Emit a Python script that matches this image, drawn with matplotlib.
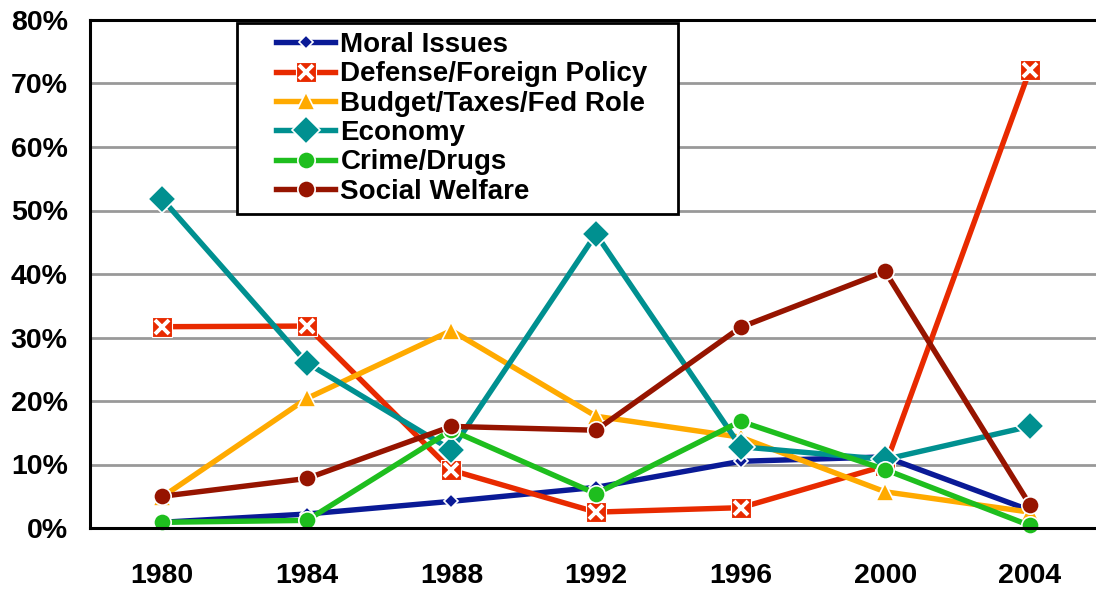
import matplotlib
matplotlib.use("Agg")
from matplotlib import pyplot as plt
from matplotlib.patches import Rectangle

years = ["1980", "1984", "1988", "1992", "1996", "2000", "2004"]

moral_issues = [0.9, 2.2, 4.2, 6.4, 10.5, 11.2, 2.8]
defense_foreign = [31.7, 31.8, 9.1, 2.5, 3.2, 9.8, 72.1]
budget_taxes = [4.9, 20.4, 31.1, 17.6, 14.3, 5.7, 2.5]
economy = [51.8, 26.0, 12.3, 46.3, 12.8, 10.8, 16.0]
crime_drugs = [0.9, 1.2, 15.4, 5.4, 16.8, 9.2, 0.4]
social_welfare = [5.0, 7.8, 16.0, 15.4, 31.6, 40.4, 3.7]

y_ticks = [0, 10, 20, 30, 40, 50, 60, 70, 80]

plt.rcParams['font.family'] = ['Liberation Sans', 'DejaVu Sans']
plt.rcParams['font.weight'] = 'bold'

fig = plt.figure(figsize=(10.96, 5.92), dpi=100)
ax = fig.add_axes([90 / 1096, 1 - 528 / 592, 1012 / 1096, 508 / 592])

x = list(range(len(years)))
lw = 3.9
edge = dict(markeredgecolor='white', markeredgewidth=1.2)

h_moral, = ax.plot(x, moral_issues, color='#0a1a96', lw=lw, marker='D', ms=7.5, **edge)
h_def, = ax.plot(x, defense_foreign, color='#e82a00', lw=lw, marker='s', ms=15, markeredgecolor='white',
                 markeredgewidth=0.8)
h_def_x, = ax.plot(x, defense_foreign, ls='none', marker='x', ms=10.5, mew=2.8, color='white')
h_budget, = ax.plot(x, budget_taxes, color='#ffaa00', lw=lw, marker='^', ms=12.5, **edge)
h_econ, = ax.plot(x, economy, color='#009090', lw=lw, marker='D', ms=14, **edge)
h_crime, = ax.plot(x, crime_drugs, color='#1ebe1e', lw=lw, marker='o', ms=12.5, **edge)
h_social, = ax.plot(x, social_welfare, color='#961400', lw=lw, marker='o', ms=12.5, **edge)

for h in [h_moral, h_def, h_def_x, h_budget, h_econ, h_crime, h_social]:
    h.set_clip_on(False)

ax.set_xlim(-0.5, len(years) - 0.5)
ax.set_ylim(0, 80)
ax.set_xticks(x)
ax.set_xticklabels(years)
ax.set_yticks(y_ticks)
ax.set_yticklabels([f"{t}%" for t in y_ticks])
ax.tick_params(axis='both', length=0, labelsize=20.5)
ax.tick_params(axis='x', pad=25)
ax.tick_params(axis='y', pad=16)

ax.grid(axis='y', color='#999999', lw=2)
ax.set_axisbelow(True)
for side in ['top', 'left', 'bottom']:
    ax.spines[side].set_linewidth(2.2)
    ax.spines[side].set_color('black')
ax.spines['right'].set_visible(False)

# legend box drawn separately so the padding matches
ax.add_patch(Rectangle((0.145, 0.618), 0.436, 0.376, transform=ax.transAxes,
                       facecolor='white', edgecolor='black', lw=2, zorder=5))
handles = [h_moral, (h_def, h_def_x), h_budget, h_econ, h_crime, h_social]
labels = ['Moral Issues', 'Defense/Foreign Policy', 'Budget/Taxes/Fed Role', 'Economy', 'Crime/Drugs',
          'Social Welfare']
leg = ax.legend(handles, labels, loc='upper left', bbox_to_anchor=(0.178, 0.987), frameon=False,
                fontsize=20, handlelength=2.15, handletextpad=0.18, labelspacing=0.12,
                borderpad=0.2, borderaxespad=0)
leg.set_zorder(6)

fig.savefig("out.png", dpi=100)
